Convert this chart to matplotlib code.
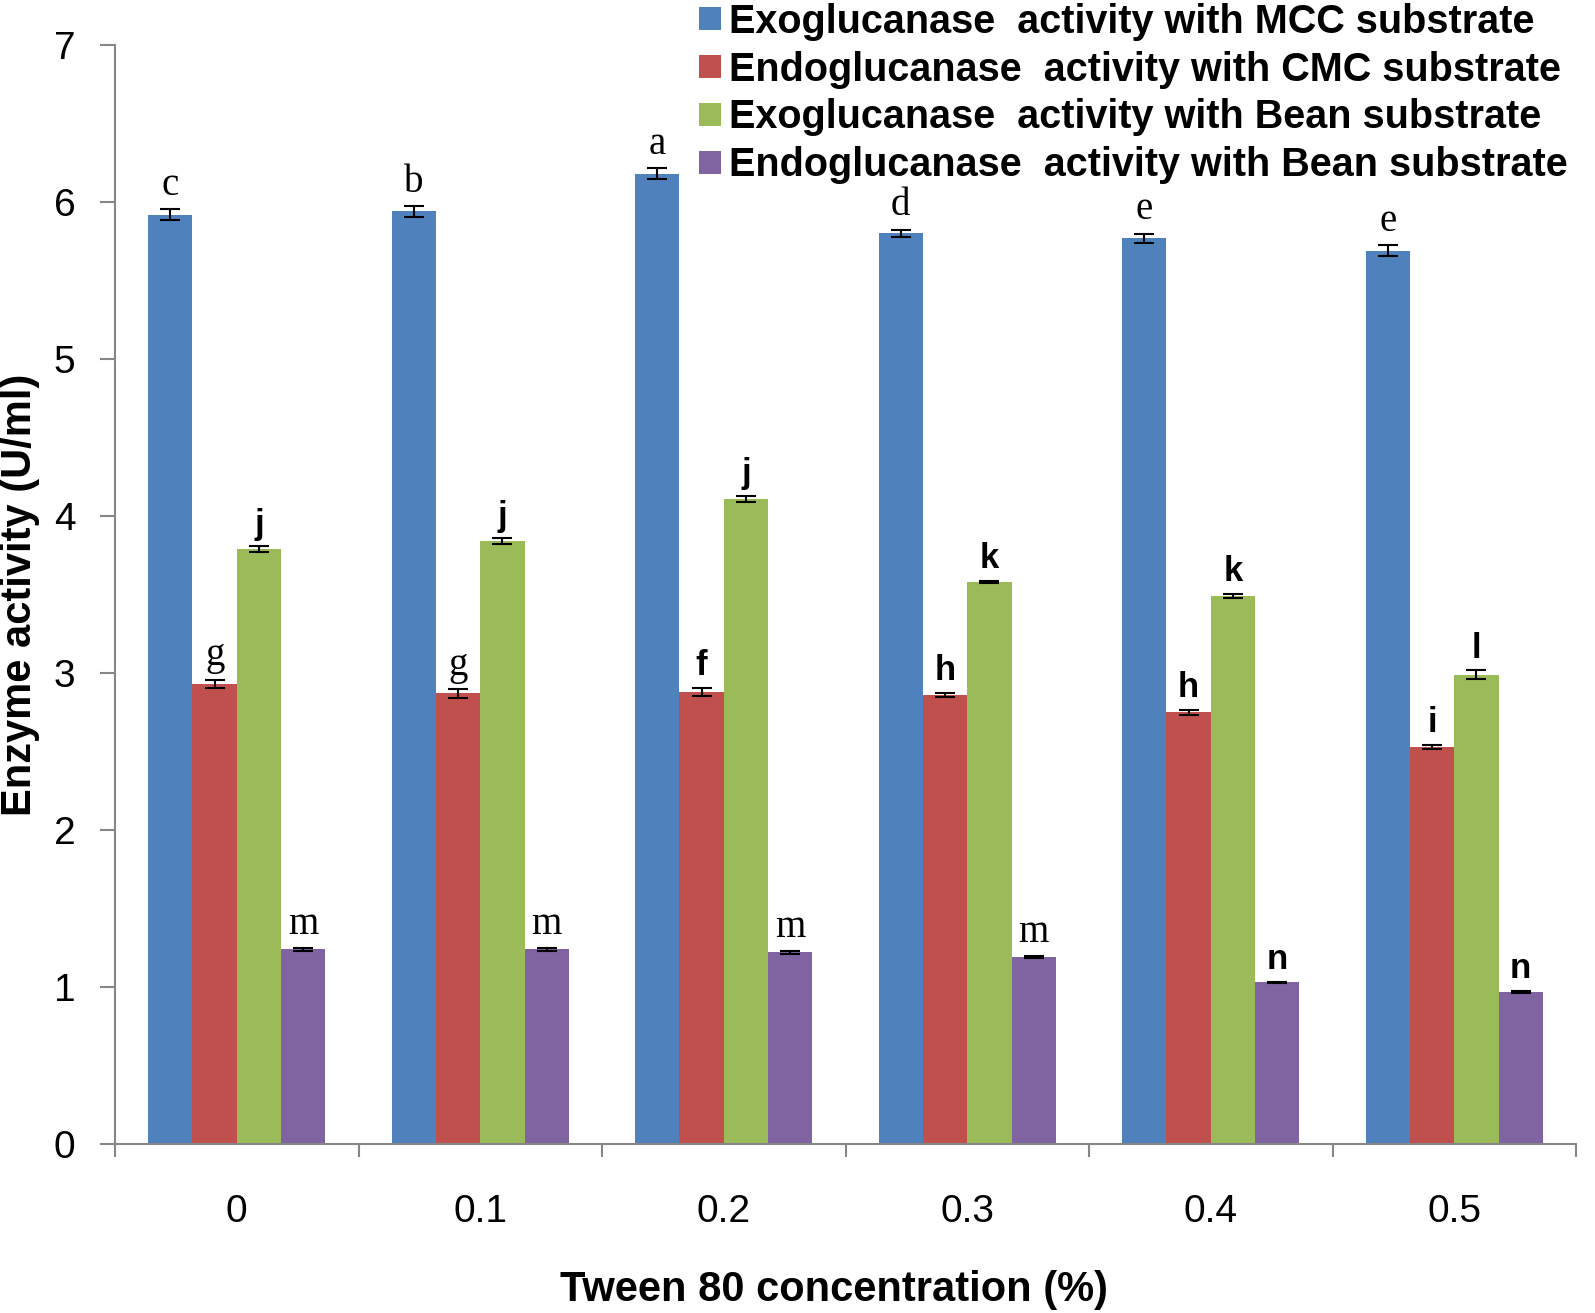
import matplotlib
matplotlib.use("Agg")
import matplotlib.pyplot as plt
import numpy as np

# Tween 80 concentration groups
conc = ["0", "0.1", "0.2", "0.3", "0.4", "0.5"]

# Enzyme activity (U/ml) per series
exo_mcc = [5.92, 5.94, 6.18, 5.80, 5.77, 5.69]
endo_cmc = [2.93, 2.87, 2.88, 2.86, 2.75, 2.53]
exo_bean = [3.79, 3.84, 4.11, 3.58, 3.49, 2.99]
endo_bean = [1.24, 1.24, 1.22, 1.19, 1.03, 0.97]

# Error bar half-widths
exo_mcc_err = [0.034, 0.034, 0.035, 0.025, 0.028, 0.035]
endo_cmc_err = [0.027, 0.027, 0.025, 0.015, 0.015, 0.012]
exo_bean_err = [0.018, 0.018, 0.02, 0.008, 0.015, 0.028]
endo_bean_err = [0.008, 0.008, 0.008, 0.005, 0.005, 0.006]

# Significance letters
exo_mcc_let = ["c", "b", "a", "d", "e", "e"]
endo_cmc_let = ["g", "g", "f", "h", "h", "i"]
exo_bean_let = ["j", "j", "j", "k", "k", "l"]
endo_bean_let = ["m", "m", "m", "m", "n", "n"]

labels = ["Exoglucanase  activity with MCC substrate",
          "Endoglucanase  activity with CMC substrate",
          "Exoglucanase  activity with Bean substrate",
          "Endoglucanase  activity with Bean substrate"]
colors = ["#4F81BD", "#C0504D", "#9BBB59", "#8064A2"]

series = [exo_mcc, endo_cmc, exo_bean, endo_bean]
errs = [exo_mcc_err, endo_cmc_err, exo_bean_err, endo_bean_err]
lets = [exo_mcc_let, endo_cmc_let, exo_bean_let, endo_bean_let]
serif_letters = {"a", "b", "c", "d", "e", "g", "m"}

plt.rcParams["font.family"] = ["Liberation Sans", "DejaVu Sans"]

fig = plt.figure(figsize=(15.95, 13.13), dpi=100)
ax = fig.add_axes([0.0721, 0.1287, 0.9160, 0.8370])

x = np.arange(len(conc))
w = 0.182
handles = []
for k, (vals, err, lab, col) in enumerate(zip(series, errs, labels, colors)):
    xpos = x + (k - 1.5) * w
    b = ax.bar(xpos, vals, width=w, color=col, edgecolor="none", label=lab)
    handles.append(b)
    ax.errorbar(xpos, vals, yerr=err, fmt="none", ecolor="black",
                elinewidth=1.5, capsize=7, capthick=1.5)
    for xi, v, e, t in zip(xpos, vals, err, lets[k]):
        if t in serif_letters:
            fam, fw, fs = "Liberation Serif", "normal", 28
        else:
            fam, fw, fs = "Liberation Sans", "bold", 25
        ax.annotate(t, (xi, v + e), xytext=(0, 4), textcoords="offset points",
                    ha="center", va="bottom", fontsize=fs,
                    family=fam, fontweight=fw)

ax.set_xlim(-0.5, 5.5)
ax.set_ylim(0, 7)
ax.set_yticks(range(0, 8))

# Excel style: ticks on group boundaries, labels at centres
ax.set_xticks(np.arange(-0.5, 6.0, 1.0))
ax.set_xticklabels([])
ax.set_xticks(x, minor=True)
ax.set_xticklabels(conc, minor=True)
ax.tick_params(axis="x", which="major", direction="out", length=9,
               width=1.5, color="#868686")
ax.tick_params(axis="x", which="minor", length=0, pad=36, labelsize=28)
ax.tick_params(axis="y", direction="out", length=10.5, width=1.5,
               color="#868686", pad=18, labelsize=28)

for s in ["top", "right"]:
    ax.spines[s].set_visible(False)
for s in ["left", "bottom"]:
    ax.spines[s].set_color("#868686")
    ax.spines[s].set_linewidth(1.5)

ax.set_ylabel("Enzyme activity (U/ml)", fontsize=30, fontweight="bold")
ax.yaxis.set_label_coords(-0.065, 0.5)
ax.yaxis.label.set_va("center")
ax.set_xlabel("Tween 80 concentration (%)", fontsize=30, fontweight="bold")
ax.xaxis.set_label_coords(0.492, -0.133)
ax.xaxis.label.set_va("center")

fig.legend(handles=handles, labels=labels, loc="upper left",
           bbox_to_anchor=(0.438, 0.998), frameon=False,
           prop={"weight": "bold", "size": 28.5},
           handlelength=0.57, handleheight=0.5, handletextpad=0.2,
           labelspacing=0.25, borderpad=0, borderaxespad=0)

fig.savefig("out.png", dpi=100)
